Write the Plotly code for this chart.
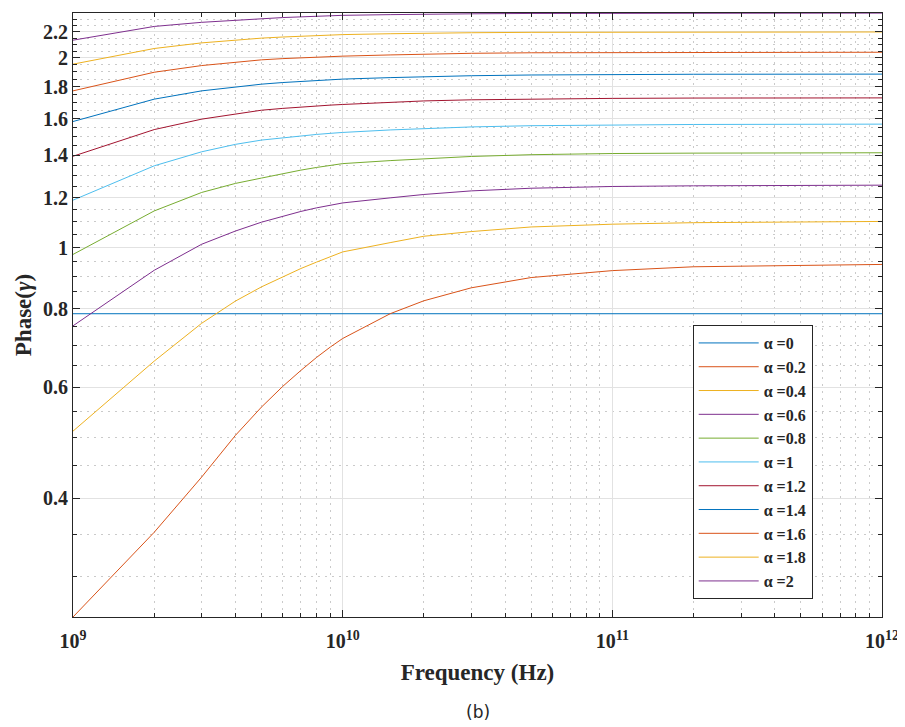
import plotly.graph_objects as go
import numpy as np

freq = [1e9, 2e9, 3e9, 4e9, 5e9, 6e9, 7e9, 8e9, 9e9, 1e10, 1.5e10, 2e10, 3e10, 5e10, 1e11, 2e11, 1e12]

alpha_labels = ["0", "0.2", "0.4", "0.6", "0.8", "1", "1.2", "1.4", "1.6", "1.8", "2"]

phase_a0 = [0.785] * 17
phase_a02 = [0.259, 0.353, 0.432, 0.503, 0.558, 0.602, 0.638, 0.669, 0.695, 0.717, 0.785, 0.823, 0.863, 0.896, 0.919, 0.932, 0.940]
phase_a04 = [0.511, 0.660, 0.758, 0.822, 0.866, 0.899, 0.926, 0.948, 0.967, 0.984, 1.018, 1.042, 1.060, 1.078, 1.089, 1.095, 1.100]
phase_a06 = [0.751, 0.920, 1.012, 1.062, 1.097, 1.122, 1.141, 1.156, 1.168, 1.177, 1.199, 1.214, 1.230, 1.242, 1.250, 1.253, 1.256]
phase_a08 = [0.975, 1.143, 1.223, 1.264, 1.289, 1.311, 1.327, 1.340, 1.350, 1.359, 1.374, 1.384, 1.395, 1.404, 1.410, 1.412, 1.414]
phase_a10 = [1.189, 1.348, 1.419, 1.458, 1.481, 1.494, 1.504, 1.512, 1.518, 1.523, 1.537, 1.545, 1.554, 1.561, 1.566, 1.568, 1.570]
phase_a12 = [1.396, 1.539, 1.599, 1.630, 1.652, 1.663, 1.672, 1.678, 1.683, 1.687, 1.700, 1.709, 1.716, 1.721, 1.725, 1.727, 1.728]
phase_a14 = [1.585, 1.720, 1.773, 1.800, 1.817, 1.828, 1.836, 1.842, 1.847, 1.851, 1.861, 1.867, 1.874, 1.879, 1.882, 1.884, 1.885]
phase_a16 = [1.773, 1.898, 1.945, 1.970, 1.986, 1.995, 2.002, 2.007, 2.010, 2.013, 2.022, 2.028, 2.034, 2.038, 2.040, 2.041, 2.042]
phase_a18 = [1.955, 2.070, 2.113, 2.136, 2.150, 2.159, 2.166, 2.171, 2.175, 2.178, 2.185, 2.189, 2.193, 2.196, 2.197, 2.198, 2.199]
phase_a20 = [2.134, 2.244, 2.278, 2.296, 2.310, 2.318, 2.324, 2.329, 2.333, 2.337, 2.343, 2.347, 2.350, 2.353, 2.354, 2.355, 2.356]

series = [phase_a0, phase_a02, phase_a04, phase_a06, phase_a08, phase_a10,
          phase_a12, phase_a14, phase_a16, phase_a18, phase_a20]

colors = ["#0072BD", "#D95319", "#EDB120", "#7E2F8E", "#77AC30", "#4DBEEE",
          "#A2142F", "#0072BD", "#D95319", "#EDB120", "#7E2F8E"]

y_major = [0.4, 0.6, 0.8, 1, 1.2, 1.4, 1.6, 1.8, 2, 2.2]
y_major_text = ["0.4", "0.6", "0.8", "1", "1.2", "1.4", "1.6", "1.8", "2", "2.2"]
y_minor = [0.3, 0.35, 0.45, 0.5, 0.55, 0.65, 0.7, 0.75, 0.85, 0.9, 0.95, 1.05, 1.1, 1.15,
           1.25, 1.3, 1.35, 1.45, 1.5, 1.55, 1.65, 1.7, 1.75, 1.85, 1.9, 1.95, 2.05, 2.1, 2.15,
           2.25, 2.3, 2.35]
x_major = [1e9, 1e10, 1e11, 1e12]
x_major_text = ["10<sup>9</sup>", "10<sup>10</sup>", "10<sup>11</sup>", "10<sup>12</sup>"]
x_minor = [m * d for d in (1e9, 1e10, 1e11) for m in range(2, 10)]

FONT = "Liberation Serif"
AX = "#262626"

fig = go.Figure()
for lab, ys, c in zip(alpha_labels, series, colors):
    fig.add_trace(go.Scatter(x=freq, y=ys, mode="lines", line=dict(color=c, width=1),
                             name="<b>α =" + lab + "</b>"))

axis_common = dict(
    showline=True, linecolor=AX, linewidth=1, mirror="allticks",
    ticks="inside", ticklen=7, tickcolor=AX,
    showgrid=True, gridcolor="#e2e2e2", gridwidth=1,
    tickfont=dict(family=FONT, size=20, color=AX, weight="bold"),
    zeroline=False, automargin=False,
)
minor_common = dict(ticks="inside", ticklen=4, tickcolor=AX,
                    showgrid=True, gridcolor="#cacaca", griddash="2px,5px", gridwidth=1)

fig.update_xaxes(type="log", range=[9, 12], tickmode="array", tickvals=x_major, ticktext=x_major_text,
                 ticklabelstandoff=6,
                 minor=dict(tickvals=x_minor, **minor_common),
                 title=dict(text="<b>Frequency (Hz)</b>", font=dict(family=FONT, size=23, color=AX),
                            standoff=12),
                 **axis_common)
fig.update_yaxes(type="log", range=[np.log10(0.259), np.log10(2.357)], tickmode="array",
                 tickvals=y_major, ticktext=y_major_text,
                 minor=dict(tickvals=y_minor, **minor_common),
                 title=dict(text="<b>Phase(<i>γ</i>)</b>", font=dict(family=FONT, size=23, color=AX),
                            standoff=4),
                 **axis_common)

fig.update_layout(
    width=897, height=719,
    margin=dict(l=65, r=23, t=5, b=110),
    paper_bgcolor="white", plot_bgcolor="white",
    showlegend=True,
    legend=dict(x=0.766, y=0.4834, xanchor="left", yanchor="top",
                bgcolor="white", bordercolor=AX, borderwidth=1,
                font=dict(family=FONT, size=16, color=AX),
                tracegroupgap=0, itemwidth=60),
    annotations=[dict(text="(b)", x=0.5, xref="paper", y=-0.158, yref="paper",
                      xanchor="center", yanchor="middle", showarrow=False,
                      font=dict(family="DejaVu Sans", size=17, color=AX))],
)

fig.write_html("out.html")
